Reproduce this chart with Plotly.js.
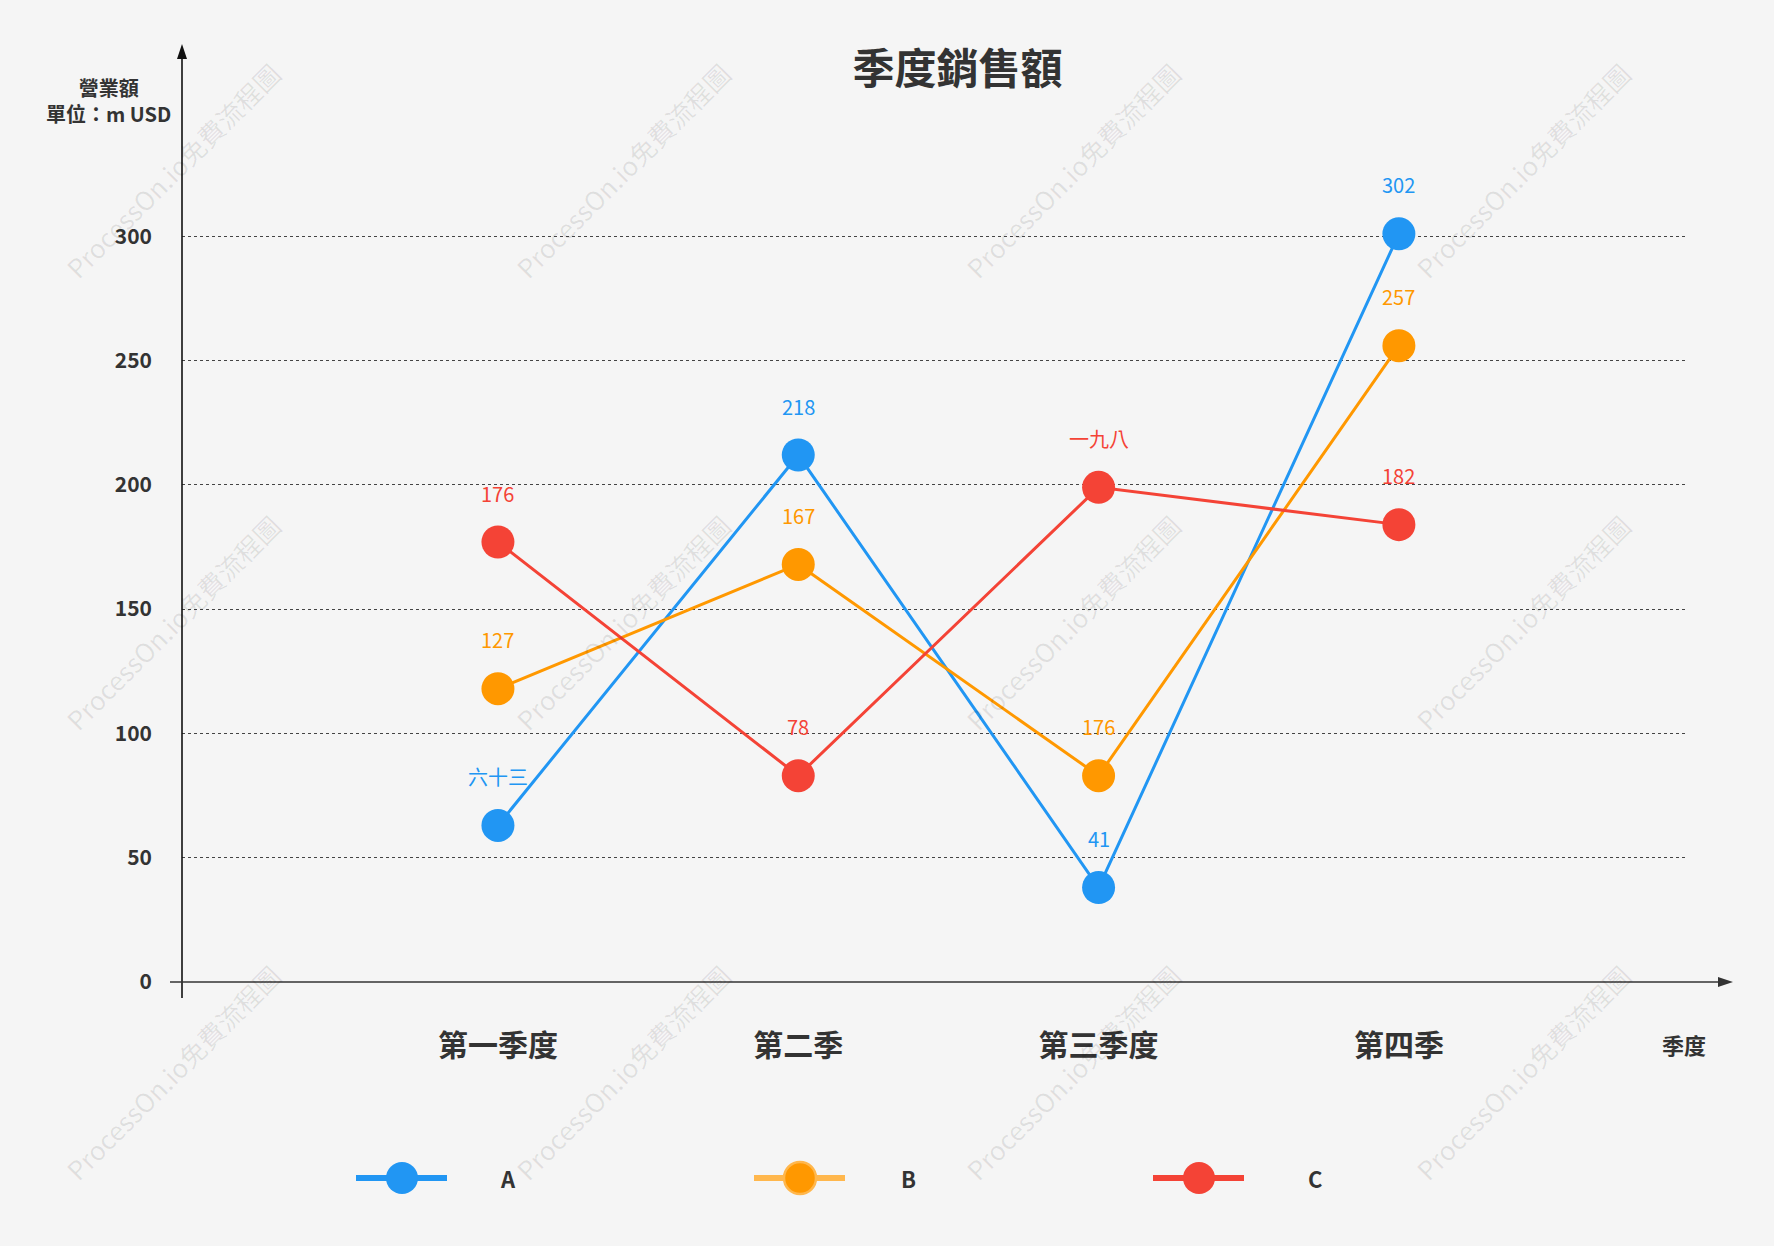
<!DOCTYPE html>
<html>
<head>
<meta charset="utf-8">
<script src="https://cdn.plot.ly/plotly-3.0.1.min.js"></script>
<style>html,body{margin:0;padding:0;background:#f5f5f5;}#chart{width:1774px;height:1246px;}</style>
</head>
<body>
<div id="chart"></div>
<script>
// ---- data ----
const categories = ['第一季度', '第二季', '第三季度', '第四季'];
const seriesNames = ['A', 'B', 'C'];
const valuesA = [63, 212, 38, 301];
const valuesB = [118, 168, 83, 256];
const valuesC = [177, 83, 199, 184];
const labelsA = ['六十三', '218', '41', '302'];
const labelsB = ['127', '167', '176', '257'];
const labelsC = ['176', '78', '一九八', '182'];
const yTicks = [0, 50, 100, 150, 200, 250, 300];
const titleText = '季度銷售額';
const yTitleText = '營業額<br>單位：m USD';
const xTitleText = '季度';
const watermarkText = 'ProcessOn.io免費流程圖';

const colors = ['#2196F3', '#FF9800', '#F44336'];
const legendLineColors = ['#2196F3', '#FFB74D', '#F44336'];
const FONT = '"Noto Sans CJK TC", "Noto Sans", sans-serif';

const W = 1774, H = 1246;
const M = {l: 182, r: 88, t: 112, b: 264};
const PW = W - M.l - M.r, PH = H - M.t - M.b;
const px = x => (x - M.l) / PW;
const py = y => (H - M.b - y) / PH;

const seriesValues = [valuesA, valuesB, valuesC];
const seriesLabels = [labelsA, labelsB, labelsC];

const traces = seriesNames.map((n, k) => ({
  type: 'scatter', mode: 'lines+markers', name: n,
  x: categories, y: seriesValues[k],
  line: {color: colors[k], width: 3},
  marker: {color: colors[k], size: 33},
  cliponaxis: false, hoverinfo: 'skip', showlegend: false
}));

const annotations = [];
// watermarks
[172, 622, 1072, 1522].forEach(cx => [170, 622, 1072].forEach(cy => {
  annotations.push({xref: 'paper', yref: 'paper', x: px(cx), y: py(cy), xanchor: 'center', yanchor: 'middle',
    text: watermarkText, showarrow: false, textangle: -45,
    font: {family: FONT, size: 26, color: 'rgba(0,0,0,0.09)'}});
}));
// data labels
seriesNames.forEach((n, k) => {
  categories.forEach((c, i) => {
    annotations.push({xref: 'x', yref: 'y', x: c, y: seriesValues[k][i], text: seriesLabels[k][i],
      showarrow: false, yshift: 49, xanchor: 'center', yanchor: 'middle',
      font: {family: FONT, size: 20, color: colors[k]}});
  });
});
// y title
annotations.push({xref: 'paper', yref: 'paper', x: px(108), y: py(101), xanchor: 'center', yanchor: 'middle',
  text: yTitleText, showarrow: false, align: 'center',
  font: {family: FONT, size: 20, color: '#333', weight: 'bold'}});
// x title
annotations.push({xref: 'paper', yref: 'paper', x: px(1684), y: py(1044), xanchor: 'center', yanchor: 'middle',
  text: xTitleText, showarrow: false,
  font: {family: FONT, size: 22, color: '#333', weight: 'bold'}});

const shapes = [];
// axes lines with arrows
shapes.push({type: 'line', xref: 'paper', yref: 'paper', x0: px(182), x1: px(182), y0: py(998), y1: py(56),
  line: {color: '#111', width: 1.6}});
shapes.push({type: 'path', xref: 'paper', yref: 'paper',
  path: `M ${px(182)} ${py(44)} L ${px(177)} ${py(59)} L ${px(187)} ${py(59)} Z`,
  fillcolor: '#111', line: {width: 0}});
shapes.push({type: 'line', xref: 'paper', yref: 'paper', x0: px(170), x1: px(1720), y0: py(982), y1: py(982),
  line: {color: '#333', width: 1.5}});
shapes.push({type: 'path', xref: 'paper', yref: 'paper',
  path: `M ${px(1733)} ${py(982)} L ${px(1718)} ${py(977)} L ${px(1718)} ${py(987)} Z`,
  fillcolor: '#333', line: {width: 0}});

// legend
const legendX = [402, 800, 1199];
const legendTextX = [508, 908, 1315];
const legendY = 1178;
seriesNames.forEach((n, k) => {
  const cx = legendX[k];
  shapes.push({type: 'line', xref: 'paper', yref: 'paper', x0: px(cx - 46), x1: px(cx + 45), y0: py(legendY), y1: py(legendY),
    line: {color: legendLineColors[k], width: 6}});
  shapes.push({type: 'circle', xref: 'paper', yref: 'paper', xsizemode: 'pixel', ysizemode: 'pixel',
    xanchor: px(cx), yanchor: py(legendY), x0: -16, x1: 16, y0: -16, y1: 16,
    fillcolor: colors[k], line: {color: k === 1 ? '#FFB74D' : colors[k], width: k === 1 ? 2.5 : 0}});
  annotations.push({xref: 'paper', yref: 'paper', x: px(legendTextX[k]), y: py(legendY), xanchor: 'center', yanchor: 'middle',
    text: n, showarrow: false, font: {family: FONT, size: 22, color: '#333', weight: 'bold'}});
});

const layout = {
  width: W, height: H,
  margin: M,
  paper_bgcolor: '#f5f5f5', plot_bgcolor: '#f5f5f5',
  showlegend: false,
  hovermode: false,
  title: {text: titleText, x: 957.5 / W, xref: 'container', y: 1 - 69 / H, yref: 'container',
    xanchor: 'center', yanchor: 'middle',
    font: {family: FONT, size: 42, color: '#333', weight: 'bold'}},
  xaxis: {type: 'category', range: [-1.052, 3.956], showgrid: false, zeroline: false, showline: false,
    ticks: '', ticklabelstandoff: 43,
    tickfont: {family: FONT, size: 30, color: '#333', weight: 'bold'}},
  yaxis: {range: [0, 350], tickvals: yTicks, ticktext: yTicks.map(String), showgrid: true, griddash: 'dot',
    gridcolor: '#444', gridwidth: 1, zeroline: false, showline: false, ticks: '', ticklabelstandoff: 29,
    tickfont: {family: FONT, size: 21, color: '#333', weight: 'bold'}},
  shapes: shapes,
  annotations: annotations
};

Plotly.newPlot('chart', traces, layout, {displayModeBar: false, staticPlot: true});
</script>
</body>
</html>
